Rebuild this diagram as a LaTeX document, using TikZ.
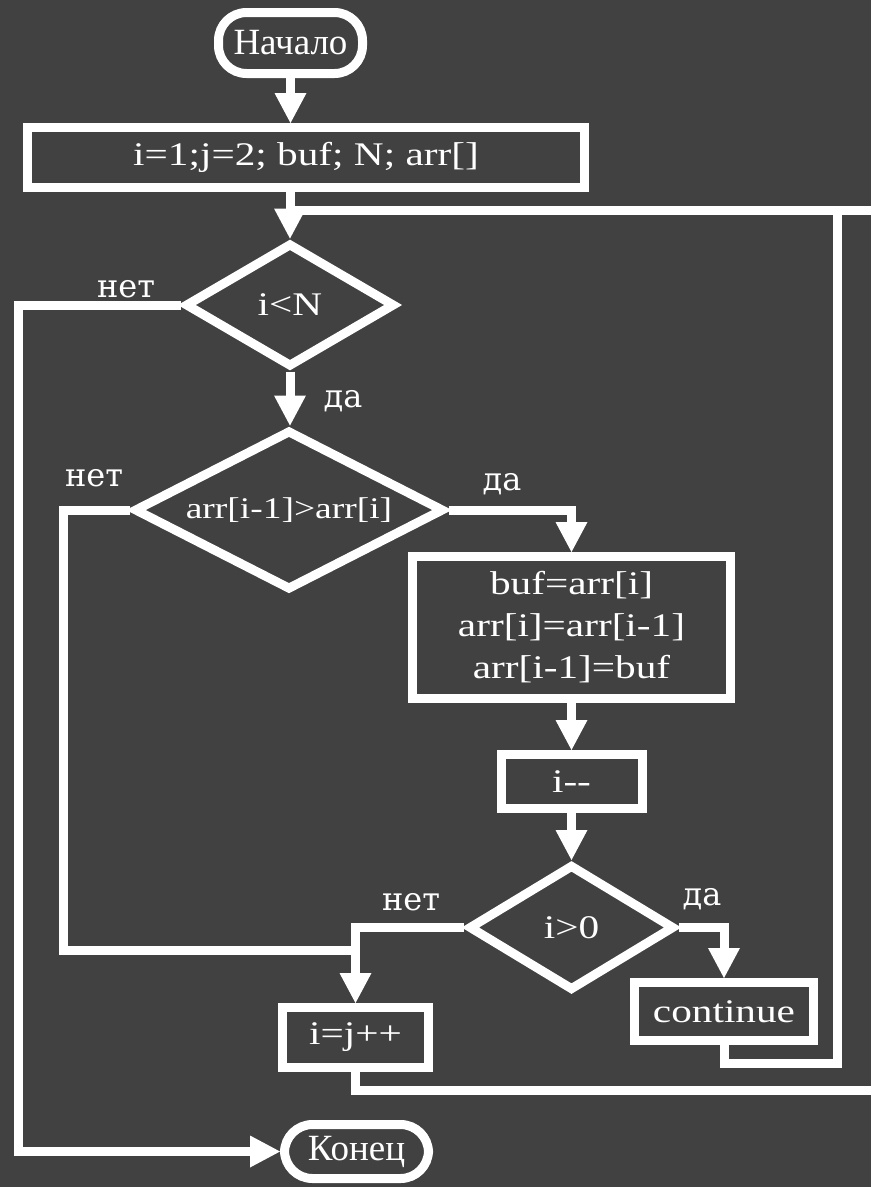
\documentclass[tikz,border=0pt]{standalone}
\usepackage{fontspec}
\setmainfont{Liberation Serif}
\newfontfamily\wideserif{Liberation Serif}[FakeStretch=1.25]
\newfontfamily\labelfont{DejaVu Serif}
\usetikzlibrary{arrows.meta,shapes.geometric}
\definecolor{bg}{RGB}{65,65,65}
\begin{document}
\begin{tikzpicture}[x=1pt,y=-1pt,
  every node/.style={text=white},
  base/.style={draw=white, line width=9pt, fill=bg, inner sep=0pt,
    font=\wideserif\fontsize{33}{42}\selectfont},
  procbox/.style={base, rectangle},
  termbox/.style={base, rectangle, rounded corners=28pt,
    font=\fontsize{37}{44}\selectfont},
  decision/.style={base, diamond, aspect=2},
  lbl/.style={font=\labelfont\fontsize{32}{36}\selectfont},
  conn/.style={draw=white, line width=9pt},
  arr/.style={conn, -{Triangle[width=32pt,length=30pt,line width=0pt 0 0]}},
]
\fill[bg] (0,0) rectangle (871,1187);
\useasboundingbox (0,0) rectangle (871,1187);
\begin{scope}
\clip (0,0) rectangle (871,1187);

% nodes
\node[termbox, minimum width=144pt, minimum height=61pt] (start) at (290.5,43) {Начало};
\node[procbox, minimum width=557pt, minimum height=60pt] (init) at (306,157.5) {i=1;j=2; buf; N; arr[]};
\node[decision, minimum width=210pt, minimum height=124pt] (d1) at (290,305) {i<N};
\node[decision, minimum width=310pt, minimum height=160pt,
      font=\wideserif\fontsize{30}{36}\selectfont] (d2) at (289,510) {arr[i-1]>arr[i]};
\node[procbox, minimum width=318pt, minimum height=142pt, align=center] (proc) at (571.5,627.5)
  {buf=arr[i]\\arr[i]=arr[i-1]\\arr[i-1]=buf};
\node[procbox, minimum width=141pt, minimum height=54pt] (idec) at (571.5,781.5) {i--};
\node[decision, minimum width=206pt, minimum height=126pt] (d3) at (571.5,927.5) {i>0};
\node[procbox, minimum width=146pt, minimum height=60pt] (ipp) at (355.5,1037.5) {i=j++};
\node[procbox, minimum width=179pt, minimum height=58pt] (cont) at (724,1011.5) {continue};
\node[termbox, minimum width=144pt, minimum height=54pt] (end) at (356.5,1151.5) {Конец};

% labels
\node[lbl] (no1) at (126,289) {нет};
\node[lbl] (yes1) at (343,401) {да};
\node[lbl] (no2) at (94,478) {нет};
\node[lbl] (yes2) at (502,484) {да};
\node[lbl] (no3) at (411,902) {нет};
\node[lbl] (yes3) at (702,899) {да};

% routing coordinates
\coordinate (top) at (290,210);
\coordinate (L1) at (18,305);
\coordinate (L2) at (63,950);
\coordinate (R1) at (837,1063);
\coordinate (R2) at (890,1090);

% connectors
\draw[arr] (start.south) -- (start.south |- init.north);
\draw[arr] (d1.north |- init.south) -- (d1.north);
\draw[arr] (d1.west) -- (L1) -- (L1 |- end.west) -- (end.west);
\draw[arr] (d1.south) -- (d1.south |- d2.north);
\draw[conn] (d2.west) -| (L2) -- (ipp.north |- L2);
\draw[arr] (d2.east) -| (proc.north);
\draw[arr] (proc.south) -- (idec.north);
\draw[arr] (idec.south) -- (d3.north);
\draw[arr] (d3.west) -| (ipp.north);
\draw[arr] (d3.east) -| (cont.north);
\draw[conn] (cont.south) |- (R1) |- (top);
\draw[conn] (ipp.south) |- (R2) |- (top);
\end{scope}
\end{tikzpicture}
\end{document}
